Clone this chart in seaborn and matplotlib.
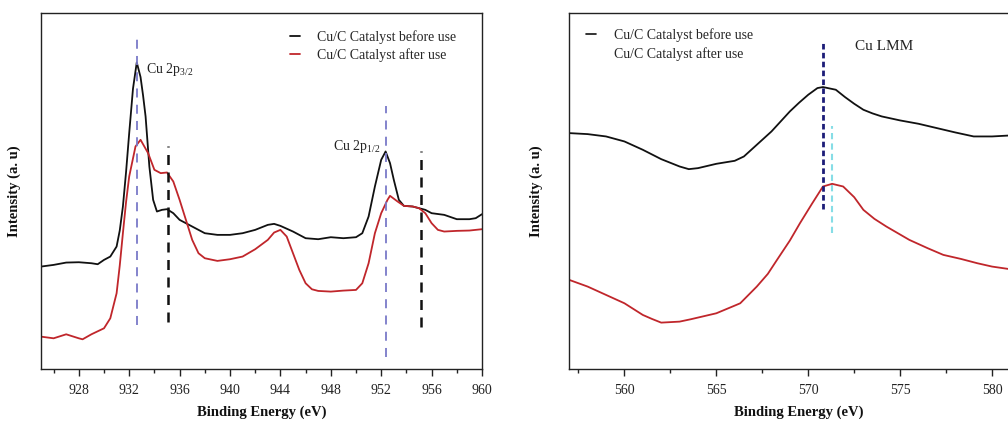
import numpy as np
import pandas as pd
import matplotlib
matplotlib.use("Agg")
import matplotlib.pyplot as plt
import seaborn as sns
from matplotlib.lines import Line2D
from matplotlib.ticker import MultipleLocator

# ---------------- data (arbitrary intensity units) ----------------
# Cu 2p region
cu2p_be_before = [925, 926, 927, 928, 929, 929.5, 930, 930.5, 931, 931.25, 931.5, 931.75, 932,
                  932.3, 932.6, 932.9, 933.1, 933.3, 933.6, 933.9, 934.2, 934.6, 935, 935.5,
                  936, 937, 938, 939, 940, 941, 942, 943, 943.5, 944, 945, 946, 947, 948,
                  949, 950, 950.5, 951, 951.5, 952, 952.35, 952.7, 953, 953.4, 953.8, 954.5,
                  955, 955.5, 956, 957, 958, 959, 959.5, 960]
cu2p_before = [307, 312, 319, 320, 317, 314, 327, 337, 367, 415, 487, 590, 707,
               840, 919, 875, 820, 757, 607, 507, 472, 477, 479, 467,
               447, 427, 407, 402, 402, 407, 417, 432, 435, 429, 412, 392, 389, 395,
               392, 395, 407, 457, 547, 627, 652, 617, 567, 507, 489, 487,
               482, 477, 467, 462, 449, 449, 452, 464]

cu2p_be_after = [925, 926, 927, 928, 928.3, 929, 930, 930.5, 931, 931.25, 931.5, 931.75, 932,
                 932.5, 932.9, 933.5, 934, 934.5, 935, 935.5, 936, 936.5, 937, 937.5, 938,
                 939, 940, 941, 942, 943, 943.5, 944, 944.5, 945, 945.5, 946, 946.5, 947,
                 948, 949, 950, 950.5, 951, 951.5, 952, 952.5, 952.7, 953.3, 953.8, 954.5,
                 955, 955.5, 956, 956.5, 957, 958, 959, 960]
cu2p_after = [97, 92, 104, 92, 89, 104, 122, 152, 227, 310, 407, 500, 577,
              667, 687, 647, 597, 587, 589, 562, 507, 447, 387, 347, 332,
              324, 329, 337, 359, 387, 409, 417, 397, 347, 297, 257, 239, 234,
              232, 235, 237, 257, 317, 407, 467, 507, 519, 502, 489, 487,
              482, 467, 437, 417, 412, 414, 415, 419]

# Cu LMM region
lmm_be_before = [557, 558, 559, 560, 561, 562, 563, 563.5, 564, 565, 566, 566.5, 567, 567.5,
                 568, 568.5, 569, 569.5, 570, 570.5, 570.8, 571.5, 572, 572.5, 573, 573.5,
                 574, 575, 576, 577, 578, 579, 580, 581]
lmm_before = [707, 704, 697, 682, 657, 629, 607, 599, 602, 615, 624, 637, 662, 687,
              712, 742, 772, 798, 822, 842, 845, 837, 815, 795, 777, 766,
              757, 745, 735, 722, 709, 697, 697, 700]

lmm_be_after = [557, 558, 559.2, 560, 561, 561.5, 562, 563, 563.6, 565, 566, 566.3, 567.2,
                567.8, 568.3, 569, 569.55, 570.2, 570.8, 571.3, 571.9, 572.5, 573, 573.6,
                574.25, 575.5, 576.5, 577.35, 578.3, 579.2, 580, 581]
lmm_after = [267, 247, 217, 197, 162, 150, 139, 142, 149, 167, 190, 197, 247,
             285, 327, 385, 437, 495, 547, 555, 547, 515, 477, 450,
             427, 387, 362, 342, 330, 317, 307, 299]

# reference peak positions (eV) and their drawn extents (intensity units)
cu2p_main_pos = [932.6, 952.35]
cu2p_main_lo = [132, 37]
cu2p_main_hi = [989, 787]
cu2p_sat_pos = [935.1, 955.15]
cu2p_sat_lo = [142, 127]
cu2p_sat_hi = [667, 652]
lmm_before_pos, lmm_before_lo, lmm_before_hi = 570.8, 479, 980
lmm_after_pos, lmm_after_lo, lmm_after_hi = 571.3, 407, 729

labels = ["Cu/C Catalyst before use", "Cu/C Catalyst after use"]
xlabel = "Binding Energy (eV)"
ylabel = "Intensity (a. u)"
left_ticks = [928, 932, 936, 940, 944, 948, 952, 956, 960]
right_ticks = [560, 565, 570, 575, 580]

# ---------------- style ----------------
sns.set_theme(style="white")
plt.rcParams["font.family"] = ["Liberation Serif", "DejaVu Serif"]
plt.rcParams["mathtext.fontset"] = "custom"
plt.rcParams["mathtext.rm"] = "Liberation Serif"
plt.rcParams["mathtext.it"] = "Liberation Serif:italic"

BLACK = "#111111"
RED = "#c0262b"

fig = plt.figure(figsize=(10.08, 4.23), dpi=100)
axL = fig.add_axes([41 / 1008, 54 / 423, 441 / 1008, 356 / 423])
axR = fig.add_axes([569.3 / 1008, 54 / 423, 459.5 / 1008, 356 / 423])

dfb = pd.DataFrame({"be": cu2p_be_before, "I": cu2p_before})
dfa = pd.DataFrame({"be": cu2p_be_after, "I": cu2p_after})
sns.lineplot(data=dfb, x="be", y="I", ax=axL, color=BLACK, lw=1.3, label=labels[0])
sns.lineplot(data=dfa, x="be", y="I", ax=axL, color=RED, lw=1.3, label=labels[1])

axL.vlines(cu2p_main_pos, cu2p_main_lo, cu2p_main_hi, colors="#7a7ac8",
           linestyles=(0, (5, 4)), lw=1.3)
axL.vlines(cu2p_sat_pos, cu2p_sat_lo, cu2p_sat_hi, colors=BLACK,
           linestyles=(0, (4, 3)), lw=1.8)

axL.text(933.3, 897, r"Cu 2p$_{3/2}$", fontsize=10, va="center", ha="left", color="#222")
axL.text(948.2, 667, r"Cu 2p$_{1/2}$", fontsize=10, va="center", ha="left", color="#222")

dfb2 = pd.DataFrame({"be": lmm_be_before, "I": lmm_before})
dfa2 = pd.DataFrame({"be": lmm_be_after, "I": lmm_after})
sns.lineplot(data=dfb2, x="be", y="I", ax=axR, color=BLACK, lw=1.3)
sns.lineplot(data=dfa2, x="be", y="I", ax=axR, color=RED, lw=1.3)
axR.vlines([lmm_before_pos], [lmm_before_lo], [lmm_before_hi], colors="#1c1c78",
           linestyles=(0, (2, 1.2)), lw=2.0)
axR.vlines([lmm_after_pos], [lmm_after_lo], [lmm_after_hi], colors="#86dde6",
           linestyles=(0, (3, 2)), lw=1.5)
axR.text(572.55, 967, "Cu LMM", fontsize=11, va="center", ha="left", color="#222")

for ax, xl, ticks, minor in [(axL, (925, 960), left_ticks, 2),
                             (axR, (557, 582), right_ticks, 2.5)]:
    ax.set_xlim(*xl)
    ax.set_ylim(0, 1067)
    ax.set_xticks(ticks)
    ax.xaxis.set_minor_locator(MultipleLocator(minor))
    ax.set_yticks([])
    ax.tick_params(axis="x", which="major", direction="out", length=5, width=1,
                   colors="#222", labelsize=10, pad=6, bottom=True)
    ax.tick_params(axis="x", which="minor", direction="out", length=3, width=1,
                   colors="#222", bottom=True)
    ax.set_xlabel(xlabel, fontsize=10.5, fontweight="bold", labelpad=6, color="#111")
    ax.set_ylabel(ylabel, fontsize=10.5, fontweight="bold", color="#111")
    for s in ax.spines.values():
        s.set_visible(True)
        s.set_color("#222")
        s.set_linewidth(1.0)

axL.yaxis.set_label_coords(-0.045, 0.5)
axR.yaxis.set_label_coords(-0.058, 0.5)

axL.legend(loc="upper left", bbox_to_anchor=(0.55, 0.972), frameon=False,
           handlelength=0.7, handletextpad=1.2, borderpad=0, labelspacing=0.35,
           fontsize=10)
handles = [Line2D([], [], color=BLACK, lw=1.2), Line2D([], [], color="none", lw=1.2)]
axR.legend(handles, labels, loc="upper left", bbox_to_anchor=(0.022, 0.977),
           frameon=False, handlelength=0.7, handletextpad=1.3, borderpad=0,
           labelspacing=0.35, fontsize=10)

fig.savefig("out.png", dpi=100)
